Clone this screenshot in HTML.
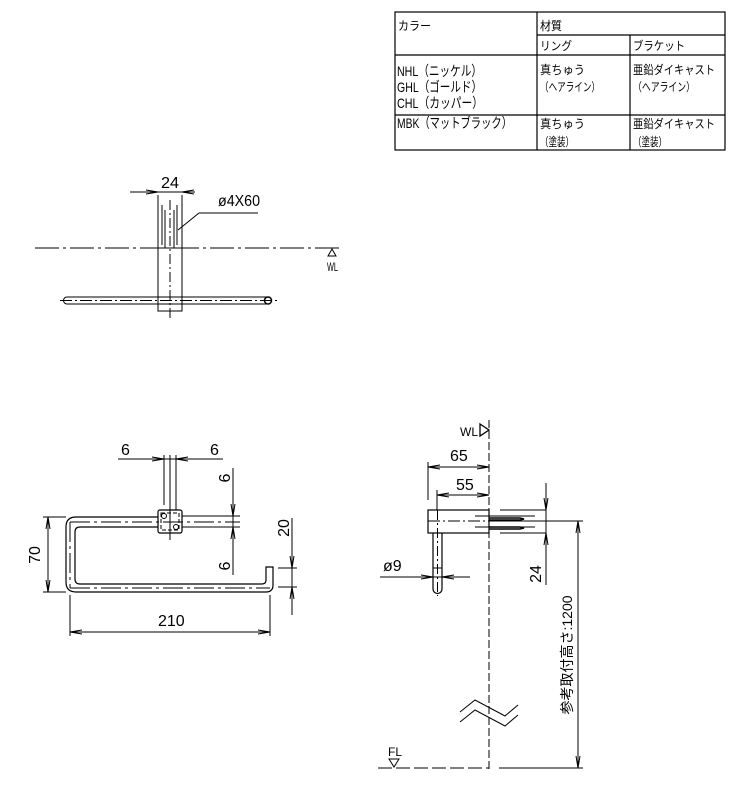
<!DOCTYPE html>
<html><head><meta charset="utf-8"><style>
body{margin:0;background:#fff}
svg{display:block}
text{font-family:"Liberation Sans","Noto Sans CJK JP",sans-serif;fill:#000}
</style></head><body>
<svg width="737" height="787" viewBox="0 0 737 787" xmlns="http://www.w3.org/2000/svg" stroke="#000" fill="none" stroke-width="1">
<!-- table -->
<g stroke-width="1.2">
<rect x="395" y="12" width="330" height="138"/>
<line x1="537" y1="12" x2="537" y2="150"/>
<line x1="630" y1="35" x2="630" y2="150"/>
<line x1="537" y1="35" x2="725" y2="35"/>
<line x1="395" y1="55" x2="725" y2="55"/>
<line x1="395" y1="115" x2="725" y2="115"/>
</g>
<g stroke="none" font-size="12" lengthAdjust="spacingAndGlyphs">
<text x="398" y="30" textLength="33" lengthAdjust="spacingAndGlyphs">カラー</text>
<text x="540" y="30" textLength="22" lengthAdjust="spacingAndGlyphs">材質</text>
<text x="540" y="50" textLength="32" lengthAdjust="spacingAndGlyphs">リング</text>
<text x="633" y="50" textLength="52" lengthAdjust="spacingAndGlyphs">ブラケット</text>
<text x="397" y="76" font-size="14" textLength="85" lengthAdjust="spacingAndGlyphs">NHL（ニッケル）</text>
<text x="397" y="92" font-size="14" textLength="85" lengthAdjust="spacingAndGlyphs">GHL（ゴールド）</text>
<text x="397" y="108" font-size="14" textLength="86" lengthAdjust="spacingAndGlyphs">CHL（カッパー）</text>
<text x="397" y="128" font-size="14" textLength="115" lengthAdjust="spacingAndGlyphs">MBK（マットブラック）</text>
<text x="540" y="74" textLength="45" lengthAdjust="spacingAndGlyphs">真ちゅう</text>
<text x="540" y="91" textLength="60" lengthAdjust="spacingAndGlyphs">（ヘアライン）</text>
<text x="633" y="74" textLength="82" lengthAdjust="spacingAndGlyphs">亜鉛ダイキャスト</text>
<text x="633" y="91" textLength="62" lengthAdjust="spacingAndGlyphs">（ヘアライン）</text>
<text x="540" y="128" textLength="45" lengthAdjust="spacingAndGlyphs">真ちゅう</text>
<text x="540" y="146" textLength="34" lengthAdjust="spacingAndGlyphs">（塗装）</text>
<text x="633" y="128" textLength="82" lengthAdjust="spacingAndGlyphs">亜鉛ダイキャスト</text>
<text x="633" y="146" textLength="34" lengthAdjust="spacingAndGlyphs">（塗装）</text>
</g>

<!-- top view -->
<line x1="35" y1="248" x2="340" y2="248" stroke-dasharray="24,4,3,4"/>
<rect x="158" y="248" width="24" height="63"/>
<line x1="170" y1="200" x2="170" y2="318" stroke-dasharray="10,3,2,3"/>
<line x1="67" y1="297" x2="270" y2="297"/><line x1="67" y1="304" x2="270" y2="304"/>
<path d="M67 297 A3.5 3.5 0 0 0 67 304"/>
<circle cx="268" cy="300.5" r="3.5" stroke-width="1.5"/>
<line x1="60" y1="300.5" x2="280" y2="300.5" stroke-dasharray="12,3,2,3"/>
<line x1="158" y1="195" x2="158" y2="248"/><line x1="182" y1="195" x2="182" y2="248"/>
<line x1="130" y1="192" x2="195" y2="192"/>
<path d="M146 190 L158 192 L146 194 M194 190 L182 192 L194 194"/>
<line x1="162" y1="205" x2="162" y2="245"/><line x1="165" y1="210" x2="165" y2="248"/>
<line x1="174" y1="210" x2="174" y2="248"/><line x1="177" y1="205" x2="177" y2="245"/>
<line x1="199" y1="213" x2="258" y2="213"/><line x1="199" y1="213" x2="178" y2="230"/>
<text x="161" y="188" font-size="16" stroke="none" textLength="18" lengthAdjust="spacingAndGlyphs">24</text>
<text x="218" y="206" font-size="16" stroke="none" textLength="42" lengthAdjust="spacingAndGlyphs">ø4X60</text>
<path d="M328 256 L332 249 L336 256 Z"/>
<text x="327" y="271" font-size="12" stroke="none" textLength="11" lengthAdjust="spacingAndGlyphs">WL</text>

<!-- front view -->
<path d="M158 517 H76 Q66 517 66 527 V582 Q66 592 76 592 H266 Q273 592 273 585 V567 H266 V580 Q266 584 262 584 H80 Q75 584 75 579 V532 Q75 527 80 527 H158" stroke-width="1.2"/>
<line x1="70" y1="522" x2="240" y2="522" stroke-dasharray="20,4,3,4"/>
<line x1="70" y1="522" x2="70" y2="588" stroke-dasharray="20,4,3,4"/>
<line x1="70" y1="588" x2="270" y2="588" stroke-dasharray="20,4,3,4"/>
<rect x="158" y="510" width="24" height="23" rx="2" stroke-width="1.2"/>
<path d="M161 513 h18 v17 h-18 z" stroke-dasharray="4,2"/>
<circle cx="164" cy="516" r="2.5"/><circle cx="176" cy="527" r="2.5"/>
<line x1="164" y1="455" x2="164" y2="505"/><line x1="170" y1="455" x2="170" y2="540"/><line x1="176" y1="455" x2="176" y2="510"/>
<line x1="118" y1="459" x2="223" y2="459"/>
<path d="M152 457 L164 459 L152 461 M188 457 L176 459 L188 461"/>
<text x="121" y="455" font-size="16" stroke="none">6</text>
<text x="210" y="455" font-size="16" stroke="none">6</text>
<line x1="182" y1="516" x2="240" y2="516"/><line x1="182" y1="527" x2="240" y2="527"/>
<line x1="233" y1="468" x2="233" y2="575"/>
<path d="M231 504 L233 516 L235 504 M231 539 L233 527 L235 539"/>
<text transform="translate(230,478) rotate(-90)" font-size="16" stroke="none" text-anchor="middle">6</text>
<text transform="translate(230,566) rotate(-90)" font-size="16" stroke="none" text-anchor="middle">6</text>
<line x1="43" y1="517" x2="66" y2="517"/><line x1="43" y1="592" x2="66" y2="592"/>
<line x1="48" y1="517" x2="48" y2="592"/>
<path d="M46 529 L48 517 L50 529 M46 580 L48 592 L50 580"/>
<text transform="translate(40,555) rotate(-90)" font-size="16" stroke="none" text-anchor="middle">70</text>
<line x1="70" y1="595" x2="70" y2="636"/><line x1="270" y1="595" x2="270" y2="636"/>
<line x1="70" y1="632" x2="270" y2="632"/>
<path d="M82 630 L70 632 L82 634 M258 630 L270 632 L258 634"/>
<text x="158" y="626" font-size="16" stroke="none">210</text>
<line x1="278" y1="568" x2="297" y2="568"/><line x1="278" y1="587" x2="297" y2="587"/>
<line x1="292" y1="518" x2="292" y2="615"/>
<path d="M290 556 L292 568 L294 556 M290 599 L292 587 L294 599"/>
<text transform="translate(289,528) rotate(-90)" font-size="16" stroke="none" text-anchor="middle">20</text>

<!-- side view -->
<line x1="489" y1="420" x2="489" y2="772" stroke-dasharray="8,3"/>
<text x="478" y="436" font-size="12" stroke="none" text-anchor="end">WL</text>
<path d="M480 424 L489 430 L480 436 Z" stroke-width="1.3"/>
<rect x="428" y="510" width="61" height="23" stroke-width="1.2"/>
<line x1="428" y1="521" x2="489" y2="521" stroke-dasharray="12,3,2,3"/>
<path d="M433 533 V589 A4.5 4.5 0 0 0 442 589 V533" stroke-width="1.2"/>
<line x1="437.5" y1="510" x2="437.5" y2="596" stroke-dasharray="10,3,2,3"/>
<line x1="433" y1="568" x2="442" y2="568"/>
<line x1="428" y1="462" x2="428" y2="500"/>
<line x1="428" y1="467" x2="489" y2="467"/>
<path d="M440 465 L428 467 L440 469 M477 465 L489 467 L477 469"/>
<text x="450" y="461" font-size="16" stroke="none">65</text>
<line x1="437" y1="490" x2="437" y2="510"/>
<line x1="437" y1="495" x2="489" y2="495"/>
<path d="M449 493 L437 495 L449 497 M477 493 L489 495 L477 497"/>
<text x="456" y="490" font-size="16" stroke="none">55</text>
<line x1="500" y1="510" x2="546" y2="510"/><line x1="500" y1="533" x2="546" y2="533"/>
<line x1="475" y1="516" x2="535" y2="516"/><line x1="475" y1="527" x2="535" y2="527"/>
<path d="M489 518 H520 L524 519 L520 520 H489 M489 527 H520 L524 528 L520 529 H489" stroke-width="1.5"/>
<line x1="489" y1="521" x2="583" y2="521"/>
<line x1="546" y1="483" x2="546" y2="585"/>
<path d="M544 498 L546 510 L548 498 M544 545 L546 533 L548 545"/>
<text transform="translate(541,574) rotate(-90)" font-size="16" stroke="none" text-anchor="middle">24</text>
<line x1="380" y1="577" x2="470" y2="577"/>
<path d="M421 575 L433 577 L421 579 M454 575 L442 577 L454 579"/>
<text x="383" y="571" font-size="16" stroke="none">ø9</text>
<line x1="578" y1="521" x2="578" y2="768"/>
<path d="M576 533 L578 521 L580 533 M576 756 L578 768 L580 756"/>
<text transform="translate(572,655) rotate(-90)" font-size="14" stroke="none" text-anchor="middle">参考取付高さ:1200</text>
<line x1="378" y1="768" x2="489" y2="768" stroke-dasharray="14,4"/>
<line x1="499" y1="768" x2="583" y2="768"/>
<path d="M389 759 L394 767 L399 759 Z"/>
<text x="388" y="756" font-size="12" stroke="none">FL</text>
<path d="M460 712 L475 700 L505 716 L518 705 M460 722 L475 710 L505 726 L518 715" stroke-width="1"/>
</svg>
</body></html>
